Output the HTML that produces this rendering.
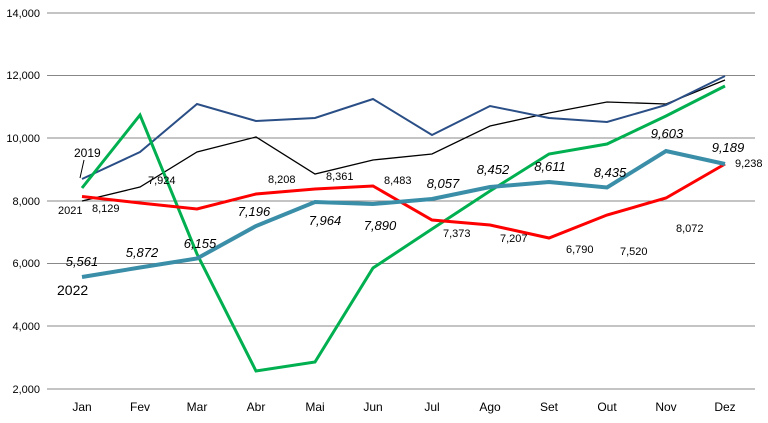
<!DOCTYPE html>
<html><head><meta charset="utf-8"><style>
body{margin:0;background:#fff;}
svg{display:block;font-family:"Liberation Sans",sans-serif;}
</style></head><body>
<svg width="768" height="423" viewBox="0 0 768 423">
<g stroke="#888" stroke-width="1">
<line x1="47" y1="13" x2="755" y2="13"/><line x1="47" y1="75.5" x2="755" y2="75.5"/>
<line x1="47" y1="138" x2="755" y2="138"/><line x1="47" y1="201" x2="755" y2="201"/>
<line x1="47" y1="263.5" x2="755" y2="263.5"/><line x1="47" y1="326" x2="755" y2="326"/>
<line x1="47" y1="389" x2="755" y2="389"/>
</g>
<g font-size="11" text-anchor="end" fill="#000">
<text x="40" y="17">14,000</text><text x="40" y="79">12,000</text><text x="40" y="142">10,000</text>
<text x="40" y="205">8,000</text><text x="40" y="267">6,000</text><text x="40" y="330">4,000</text><text x="40" y="393">2,000</text>
</g>
<g font-size="12" text-anchor="middle" fill="#000">
<text x="82" y="411">Jan</text><text x="140" y="411">Fev</text><text x="197" y="411">Mar</text><text x="256" y="411">Abr</text>
<text x="315" y="411">Mai</text><text x="373" y="411">Jun</text><text x="432" y="411">Jul</text><text x="490" y="411">Ago</text>
<text x="549" y="411">Set</text><text x="607" y="411">Out</text><text x="666" y="411">Nov</text><text x="725" y="411">Dez</text>
</g>
<polyline fill="none" stroke="#000" stroke-width="1.3" points="82,201 140,187 197,152 256,137 315,174 373,160 432,154 490,126 549,113 607,102 666,104 725,80"/>
<polyline fill="none" stroke="#2a4e86" stroke-width="2" points="82,179 140,152 197,104 256,121 315,118 373,99 432,135 490,106 549,118 607,122 666,105 725,76"/>
<polyline fill="none" stroke="#00b050" stroke-width="3" points="82,188 140,115 197,254 256,371 315,362 373,268 432,229 490,191 549,154 607,144 666,116 725,86"/>
<polyline fill="none" stroke="#ff0000" stroke-width="3" points="82,196.5 140,203 197,209 256,194 315,189 373,186 432,220 490,225 549,238 607,215 666,198 725,164"/>
<polyline fill="none" stroke="#3a8ea8" stroke-width="4" points="82,277 140,267.5 197,258.5 256,226 315,202 373,204 432,199 490,187 549,182 607,187.5 666,151 725,164"/>
<g font-size="11" fill="#000">
<text x="58" y="214">2021</text><text x="92" y="212">8,129</text><text x="148" y="184">7,924</text>
<text x="268" y="183">8,208</text><text x="326" y="180">8,361</text><text x="384" y="184">8,483</text>
<text x="443" y="237">7,373</text><text x="500" y="242">7,207</text><text x="566" y="253">6,790</text>
<text x="620" y="255">7,520</text><text x="676" y="232">8,072</text><text x="735" y="167">9,238</text>
</g>
<text x="74" y="157" font-size="12" fill="#000">2019</text>
<line x1="84" y1="160" x2="80" y2="178" stroke="#000" stroke-width="1"/>
<text x="57" y="295" font-size="14" fill="#000">2022</text>
<g font-size="13" font-style="italic" fill="#000" text-anchor="middle">
<text x="82" y="266">5,561</text><text x="142" y="257">5,872</text><text x="200" y="248">6,155</text>
<text x="254" y="216">7,196</text><text x="325" y="225">7,964</text><text x="380" y="230">7,890</text>
<text x="443" y="188">8,057</text><text x="493" y="174">8,452</text><text x="550" y="171">8,611</text>
<text x="610" y="177">8,435</text><text x="667" y="138">9,603</text><text x="728" y="152">9,189</text>
</g>
</svg>
</body></html>
